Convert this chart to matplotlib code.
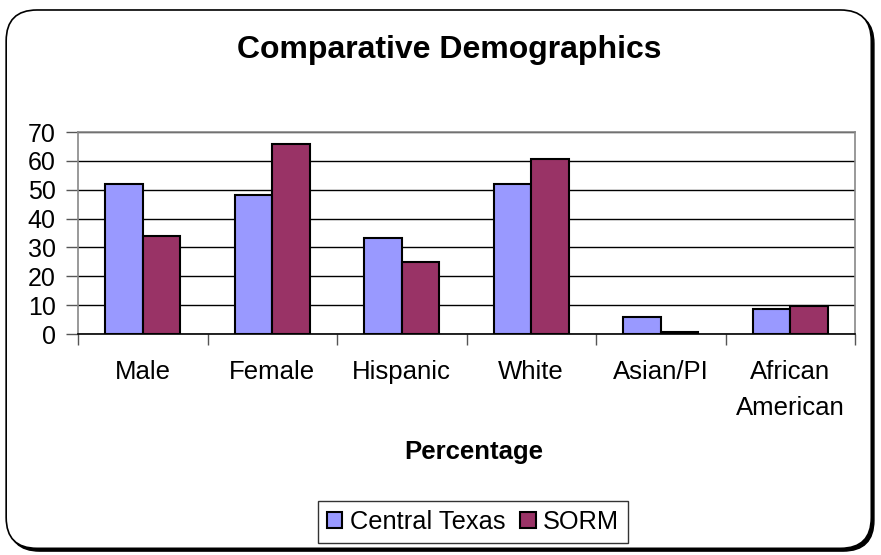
import numpy as np
import matplotlib
matplotlib.use('Agg')
from matplotlib import pyplot as plt
from matplotlib.patches import FancyBboxPatch

categories = ['Male', 'Female', 'Hispanic', 'White', 'Asian/PI', 'African\nAmerican']
central_texas = [52, 48, 33.2, 52, 6, 8.8]
sorm = [34, 66, 24.8, 60.7, 0.7, 9.7]
series_names = ['Central Texas', 'SORM']
yticks = [0, 10, 20, 30, 40, 50, 60, 70]

plt.rcParams['font.family'] = ['Liberation Sans', 'DejaVu Sans']

fig = plt.figure(figsize=(8.81, 5.55), dpi=100)

# rounded chart border with a small shadow
shadow = FancyBboxPatch((0.010, 0.007), 0.982, 0.97, boxstyle='round,pad=0,rounding_size=0.035',
                        transform=fig.transFigure, facecolor='black', edgecolor='black',
                        lw=1, zorder=0, mutation_aspect=881 / 555)
frame = FancyBboxPatch((0.007, 0.012), 0.982, 0.97, boxstyle='round,pad=0,rounding_size=0.035',
                       transform=fig.transFigure, facecolor='white', edgecolor='black',
                       lw=1.2, zorder=0.5, mutation_aspect=881 / 555)
fig.patches.extend([shadow, frame])

ax = fig.add_axes([78 / 881, 1 - 334 / 555, (855 - 78) / 881, (334 - 132) / 555])
ax.set_facecolor('none')
ax.set_zorder(2)

x = np.arange(len(categories))
w = 0.29
ax.bar(x - w / 2, central_texas, w, color='#9999FF', edgecolor='black', lw=1.5,
       label=series_names[0], zorder=3)
ax.bar(x + w / 2, sorm, w, color='#993366', edgecolor='black', lw=1.5,
       label=series_names[1], zorder=3)

ax.set_xlim(-0.5, len(categories) - 0.5)
ax.set_ylim(0, 70)
ax.set_yticks(yticks)
ax.yaxis.grid(True, color='black', lw=1)
ax.set_axisbelow(True)
ax.tick_params(axis='y', length=9, width=1, color='#555555', labelsize=18, pad=7)

ax.set_xticks(np.arange(len(categories) + 1) - 0.5)
ax.set_xticklabels([])
ax.tick_params(axis='x', which='major', length=8, width=1, color='#555555')
ax.set_xticks(x, minor=True)
ax.set_xticklabels(categories, minor=True, fontsize=18.5, linespacing=1.6)
ax.tick_params(axis='x', which='minor', length=0, pad=19)

for s in ['left', 'top', 'right']:
    ax.spines[s].set_color('#888888')
    ax.spines[s].set_linewidth(1.2)
ax.spines['bottom'].set_color('black')
ax.spines['bottom'].set_linewidth(1.2)

fig.text(449 / 881, 1 - 50 / 555, 'Comparative Demographics', ha='center', va='center',
         fontsize=23, fontweight='bold', zorder=3)
fig.text(474 / 881, 1 - 452 / 555, 'Percentage', ha='center', va='center',
         fontsize=18.5, fontweight='bold', zorder=3)

leg = fig.legend(loc='center', bbox_to_anchor=(473 / 881, 1 - 522 / 555), ncol=2,
                 fontsize=18.3, frameon=True, fancybox=False, edgecolor='black',
                 handlelength=0.6, handleheight=0.6, handletextpad=0.3,
                 columnspacing=0.6, borderpad=0.35)
leg.get_frame().set_linewidth(1)
leg.set_zorder(3)

fig.savefig('out.png', dpi=100)
